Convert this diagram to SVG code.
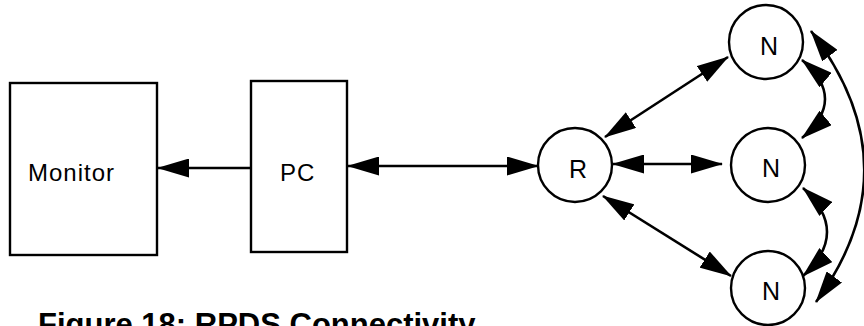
<svg xmlns="http://www.w3.org/2000/svg" width="864" height="326" viewBox="0 0 864 326">
<style>
.box{fill:#fff;stroke:#000;stroke-width:2.4}
.lbl{font-family:"Liberation Sans",Arial,sans-serif;font-size:24px;letter-spacing:1px;fill:#000}
.node{font-family:"Liberation Sans",Arial,sans-serif;font-size:25px;fill:#000;text-anchor:middle}
.cap{font-family:"Liberation Sans",Arial,sans-serif;font-size:31px;font-weight:bold;fill:#000}
.c{fill:none;stroke:#000;stroke-width:2.6}
</style>
<defs>
<marker id="ah" viewBox="0 0 32 19" refX="31" refY="9.5" markerWidth="32" markerHeight="19" markerUnits="userSpaceOnUse" orient="auto-start-reverse">
<path d="M0,0 L32,9.5 L0,19 z" fill="#000"/>
</marker>
</defs>
<rect width="864" height="326" fill="#fff"/>
<g id="connectors">
<line class="c" x1="251" y1="168" x2="158" y2="168" marker-end="url(#ah)"/>
<line class="c" x1="348" y1="166" x2="538" y2="166" marker-start="url(#ah)" marker-end="url(#ah)"/>
<line class="c" x1="605" y1="137" x2="728" y2="57" marker-start="url(#ah)" marker-end="url(#ah)"/>
<line class="c" x1="613" y1="164" x2="722" y2="164" marker-start="url(#ah)" marker-end="url(#ah)"/>
<line class="c" x1="603" y1="196" x2="731" y2="276" marker-start="url(#ah)" marker-end="url(#ah)"/>
<path class="c" d="M802,60 Q848,99 802,138" marker-start="url(#ah)" marker-end="url(#ah)"/>
<path class="c" d="M803,188 Q851,232 803,276" marker-start="url(#ah)" marker-end="url(#ah)"/>
<path class="c" d="M811,31 Q915,167 816,302" marker-start="url(#ah)" marker-end="url(#ah)"/>
</g>
<g id="monitor">
<rect class="box" x="10" y="83" width="147" height="172"/>
<text class="lbl" x="28" y="181">Monitor</text>
</g>
<g id="pc">
<rect class="box" x="251" y="81" width="96" height="171"/>
<text class="lbl" x="280" y="181">PC</text>
</g>
<g id="r">
<circle class="box" cx="575" cy="165" r="37"/>
<text class="node" x="578" y="178">R</text>
</g>
<g id="n1">
<circle class="box" cx="766" cy="42" r="37"/>
<text class="node" x="769" y="55">N</text>
</g>
<g id="n2">
<circle class="box" cx="768" cy="165" r="37"/>
<text class="node" x="771" y="177">N</text>
</g>
<g id="n3">
<circle class="box" cx="768" cy="288" r="37"/>
<text class="node" x="771" y="300">N</text>
</g>
<text class="cap" x="38" y="335">Figure 18: RPDS Connectivity</text>
</svg>
